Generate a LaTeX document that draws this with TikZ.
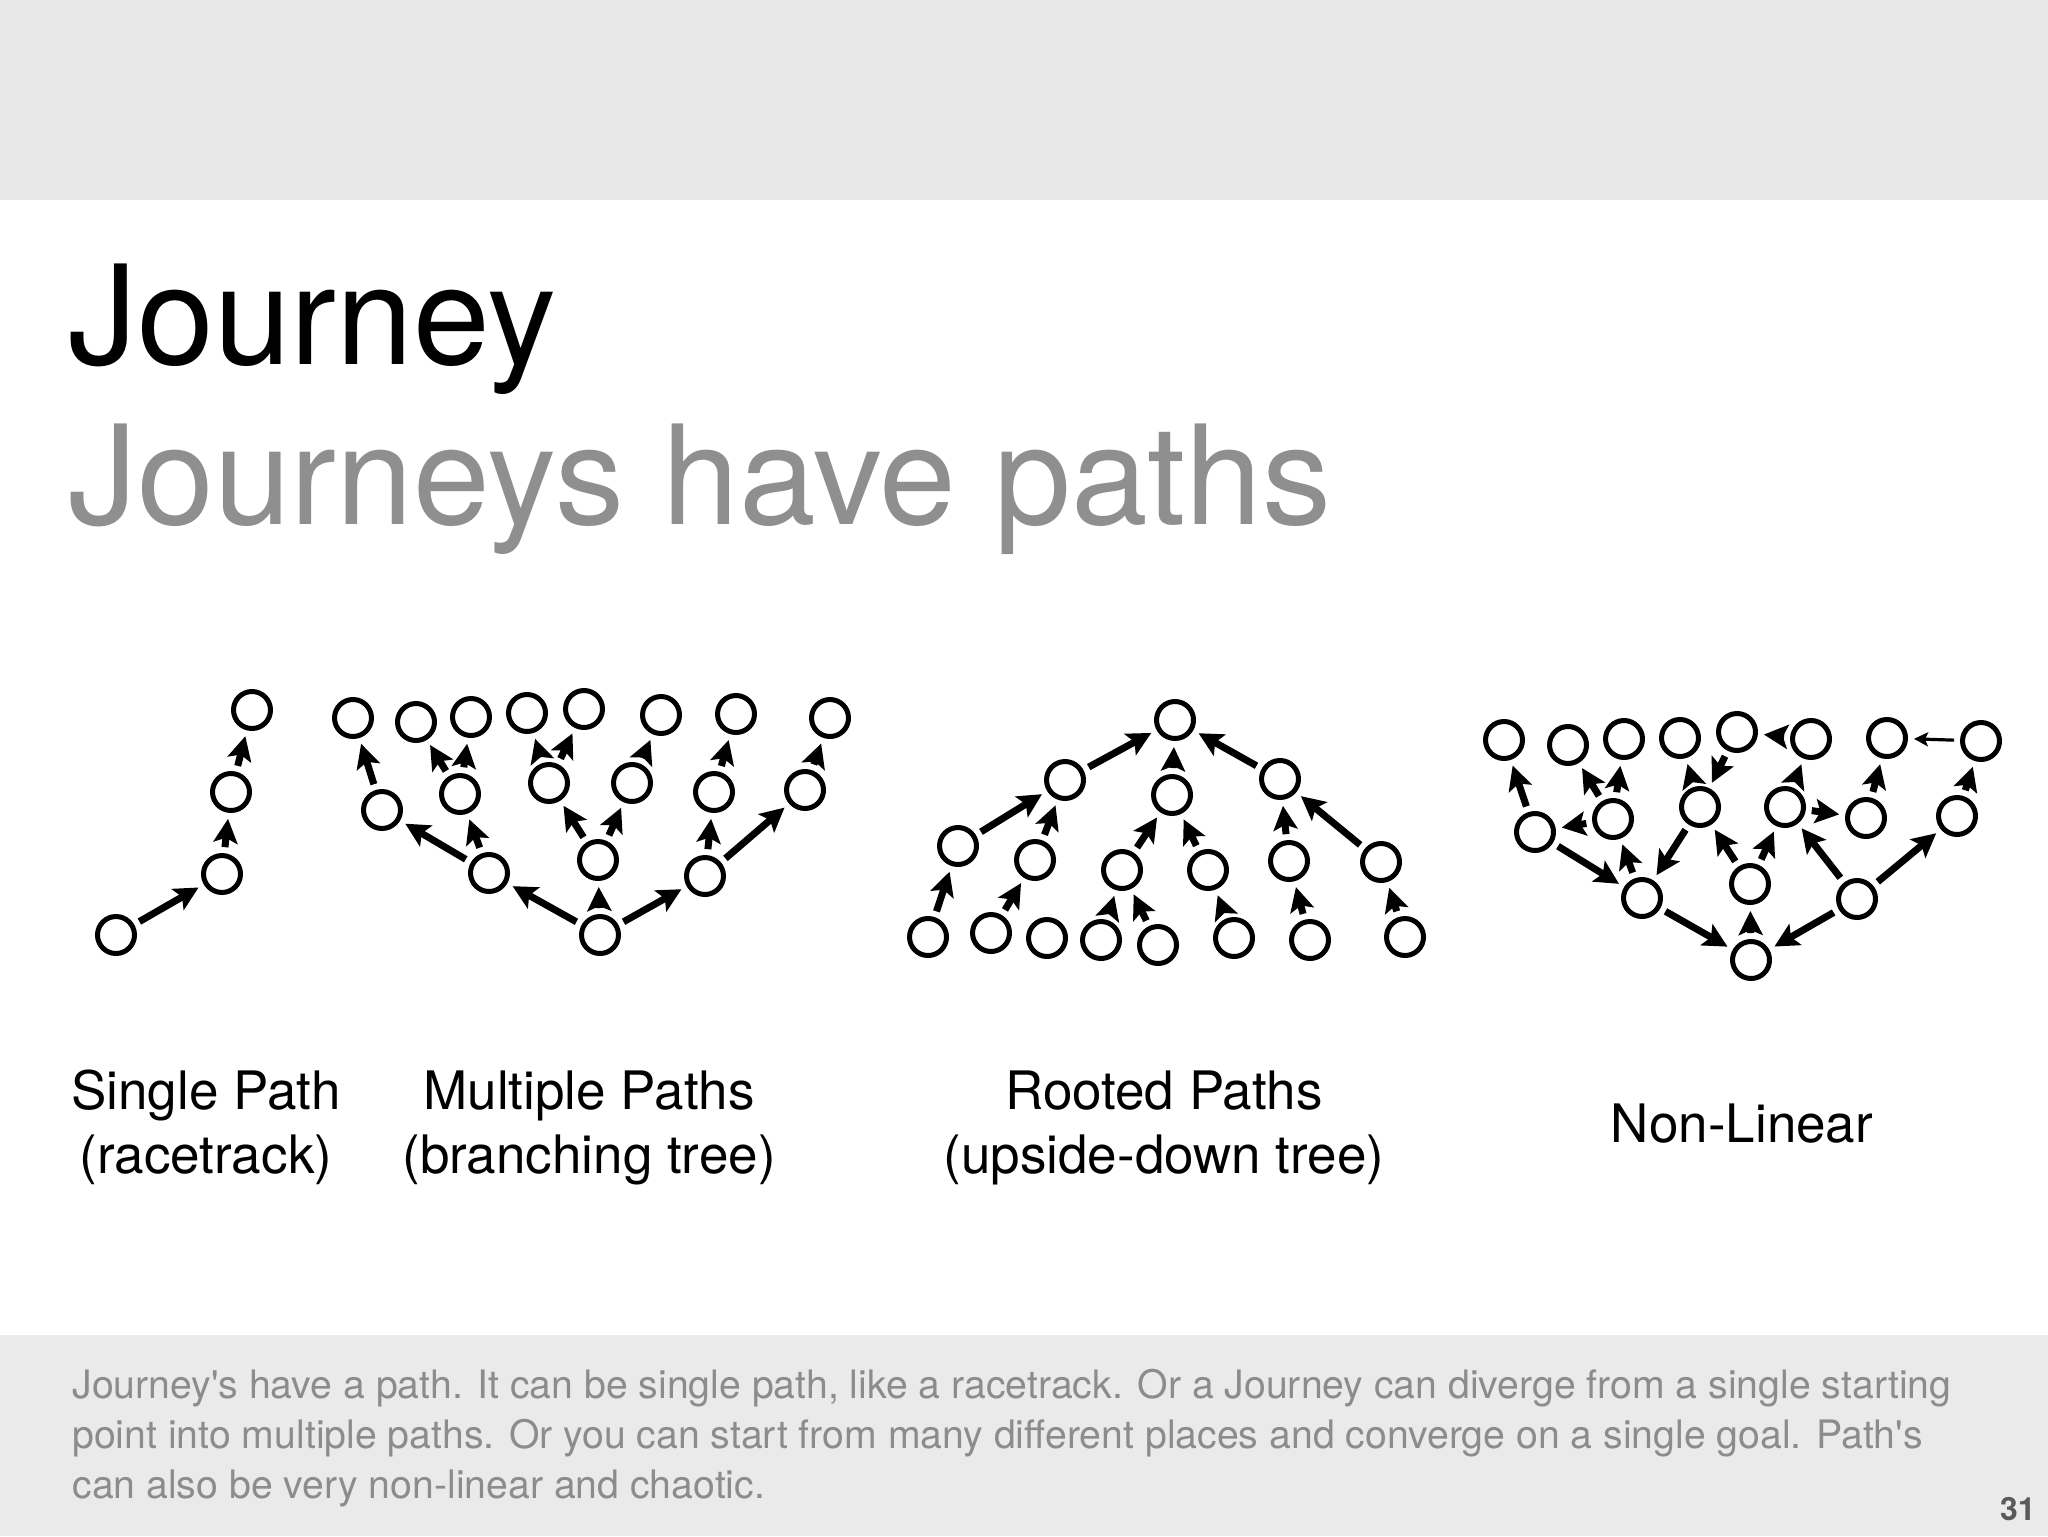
\documentclass[tikz,border=0pt]{standalone}
\usepackage{fontspec}
\setmainfont{TeX Gyre Heros}
\usetikzlibrary{arrows.meta}
\definecolor{bandgray}{HTML}{E8E8E8}
\definecolor{footgray}{HTML}{EAEAEA}
\definecolor{subgray}{HTML}{8F8F8F}
\definecolor{foottext}{HTML}{8C8C8C}
\definecolor{pagegray}{HTML}{5A5A5A}
\tikzset{
  nd/.style={circle,draw=black,line width=2.5pt,minimum size=18.5pt,inner sep=0pt},
  ar/.style={-{Stealth[length=12pt,width=12pt,inset=2.5pt]},line width=3.5pt,shorten <=3pt,shorten >=3pt},
  thinar/.style={-{Stealth[length=7pt,width=7pt,inset=1.5pt]},line width=1.6pt,shorten <=3pt,shorten >=3pt},
  title/.style={inner sep=0pt,anchor=base west,font=\fontsize{69pt}{80pt}\selectfont},
  lab/.style={inner sep=0pt,anchor=base,font=\fontsize{26.5pt}{30pt}\selectfont},
  foot/.style={inner sep=0pt,anchor=base west,text=foottext,font=\fontsize{19.6pt}{24pt}\selectfont}
}
\begin{document}
\begin{tikzpicture}[x=0.5pt,y=-0.5pt]
\useasboundingbox (0,0) rectangle (2048,1536);
\fill[white] (0,0) rectangle (2048,1536);
\fill[bandgray] (0,0) rectangle (2048,200);
\fill[footgray] (0,1335) rectangle (2048,1536);

% titles
\node[title] (t1) at (68,364) {Journey};
\node[title,text=subgray] (t2) at (68,524) {Journeys have paths};

% ---------- Single path ----------
\node[nd] (s1) at (116,935) {};
\node[nd] (s2) at (222,874) {};
\node[nd] (s3) at (231,792) {};
\node[nd] (s4) at (252,710) {};
\draw[ar] (s1) -- (s2);
\draw[ar] (s2) -- (s3);
\draw[ar] (s3) -- (s4);

% ---------- Multiple paths ----------
\node[nd] (m0) at (600,935) {};
\node[nd] (ma) at (489,873) {};
\node[nd] (mb) at (598,860) {};
\node[nd] (mc) at (705,876) {};
\node[nd] (ma1) at (382,810) {};
\node[nd] (ma2) at (460,794) {};
\node[nd] (mb1) at (549,783) {};
\node[nd] (mb2) at (632,783) {};
\node[nd] (mc1) at (714,792) {};
\node[nd] (mc2) at (805,790) {};
\node[nd] (mt1) at (353,718) {};
\node[nd] (mt2) at (416,722) {};
\node[nd] (mt3) at (471,717) {};
\node[nd] (mt4) at (527,713) {};
\node[nd] (mt5) at (584,709) {};
\node[nd] (mt6) at (661,715) {};
\node[nd] (mt7) at (736,714) {};
\node[nd] (mt8) at (830,718) {};
\draw[ar] (m0) -- (ma);
\draw[ar] (m0) -- (mb);
\draw[ar] (m0) -- (mc);
\draw[ar] (ma) -- (ma1);
\draw[ar] (ma) -- (ma2);
\draw[ar] (mb) -- (mb1);
\draw[ar] (mb) -- (mb2);
\draw[ar] (mc) -- (mc1);
\draw[ar] (mc) -- (mc2);
\draw[ar] (ma1) -- (mt1);
\draw[ar] (ma2) -- (mt2);
\draw[ar] (ma2) -- (mt3);
\draw[ar] (mb1) -- (mt4);
\draw[ar] (mb1) -- (mt5);
\draw[ar] (mb2) -- (mt6);
\draw[ar] (mc1) -- (mt7);
\draw[ar] (mc2) -- (mt8);

% ---------- Rooted paths ----------
\node[nd] (r0) at (1175,720) {};
\node[nd] (rp) at (1065,780) {};
\node[nd] (rq) at (1172,795) {};
\node[nd] (rr) at (1280,779) {};
\node[nd] (rp1) at (958,846) {};
\node[nd] (rp2) at (1035,860) {};
\node[nd] (rq1) at (1122,870) {};
\node[nd] (rq2) at (1208,870) {};
\node[nd] (rr1) at (1289,861) {};
\node[nd] (rr2) at (1381,862) {};
\node[nd] (rl1) at (928,937) {};
\node[nd] (rl2) at (991,933) {};
\node[nd] (rl3) at (1047,938) {};
\node[nd] (rl4) at (1101,940) {};
\node[nd] (rl5) at (1158,945) {};
\node[nd] (rl6) at (1234,938) {};
\node[nd] (rl7) at (1310,940) {};
\node[nd] (rl8) at (1405,937) {};
\draw[ar] (rp) -- (r0);
\draw[ar] (rq) -- (r0);
\draw[ar] (rr) -- (r0);
\draw[ar] (rp1) -- (rp);
\draw[ar] (rp2) -- (rp);
\draw[ar] (rq1) -- (rq);
\draw[ar] (rq2) -- (rq);
\draw[ar] (rr1) -- (rr);
\draw[ar] (rr2) -- (rr);
\draw[ar] (rl1) -- (rp1);
\draw[ar] (rl2) -- (rp2);
\draw[ar] (rl4) -- (rq1);
\draw[ar] (rl5) -- (rq1);
\draw[ar] (rl6) -- (rq2);
\draw[ar] (rl7) -- (rr1);
\draw[ar] (rl8) -- (rr2);

% ---------- Non-linear ----------
\node[nd] (n1) at (1504,740) {};
\node[nd] (n2) at (1568,745) {};
\node[nd] (n3) at (1624,739) {};
\node[nd] (n4) at (1680,738) {};
\node[nd] (n5) at (1737,732) {};
\node[nd] (n6) at (1811,739) {};
\node[nd] (n7) at (1887,738) {};
\node[nd] (n8) at (1981,741) {};
\node[nd] (nm1) at (1535,832) {};
\node[nd] (nm2) at (1613,819) {};
\node[nd] (nm3) at (1700,807) {};
\node[nd] (nm4) at (1785,807) {};
\node[nd] (nm5) at (1866,818) {};
\node[nd] (nm6) at (1957,816) {};
\node[nd] (nb1) at (1642,898) {};
\node[nd] (nb2) at (1750,884) {};
\node[nd] (nb3) at (1857,899) {};
\node[nd] (nb0) at (1751,960) {};
\draw[ar] (nm1) -- (n1);
\draw[ar] (nm2) -- (nm1);
\draw[ar] (nm2) -- (n2);
\draw[ar] (nm2) -- (n3);
\draw[ar] (nm1) -- (nb1);
\draw[ar] (nb1) -- (nm2);
\draw[ar] (nb1) -- (nb0);
\draw[ar] (nm3) -- (n4);
\draw[ar] (n5) -- (nm3);
\draw[ar] (n6) -- (n5);
\draw[ar] (nm3) -- (nb1);
\draw[ar] (nb2) -- (nm3);
\draw[ar] (nb2) -- (nm4);
\draw[ar] (nb0) -- (nb2);
\draw[ar] (nm4) -- (n6);
\draw[ar] (nm4) -- (nm5);
\draw[ar] (nb3) -- (nm4);
\draw[ar] (nb3) -- (nm6);
\draw[ar] (nb3) -- (nb0);
\draw[ar] (nm5) -- (n7);
\draw[ar] (nm6) -- (n8);
\draw[thinar] (n8) -- (n7);

% ---------- labels ----------
\node[lab] (l1a) at (206,1109) {Single Path};
\node[lab] (l1b) at (206,1173) {(racetrack)};
\node[lab] (l2a) at (589,1109) {Multiple Paths};
\node[lab] (l2b) at (589,1173) {(branching tree)};
\node[lab] (l3a) at (1164,1109) {Rooted Paths};
\node[lab] (l3b) at (1164,1173) {(upside-down tree)};
\node[lab] (l4a) at (1742,1142) {Non-Linear};

% ---------- footer ----------
\node[foot] (f1) at (72,1398) {Journey\textquotesingle s have a path. It can be single path, like a racetrack. Or a Journey can diverge from a single starting};
\node[foot] (f2) at (72,1448) {point into multiple paths. Or you can start from many different places and converge on a single goal. Path\textquotesingle s};
\node[foot] (f3) at (72,1498) {can also be very non-linear and chaotic.};
\node[inner sep=0pt,anchor=base east,text=pagegray,font=\bfseries\fontsize{16pt}{18pt}\selectfont] (pg) at (2036,1520) {31};
\end{tikzpicture}
\end{document}
